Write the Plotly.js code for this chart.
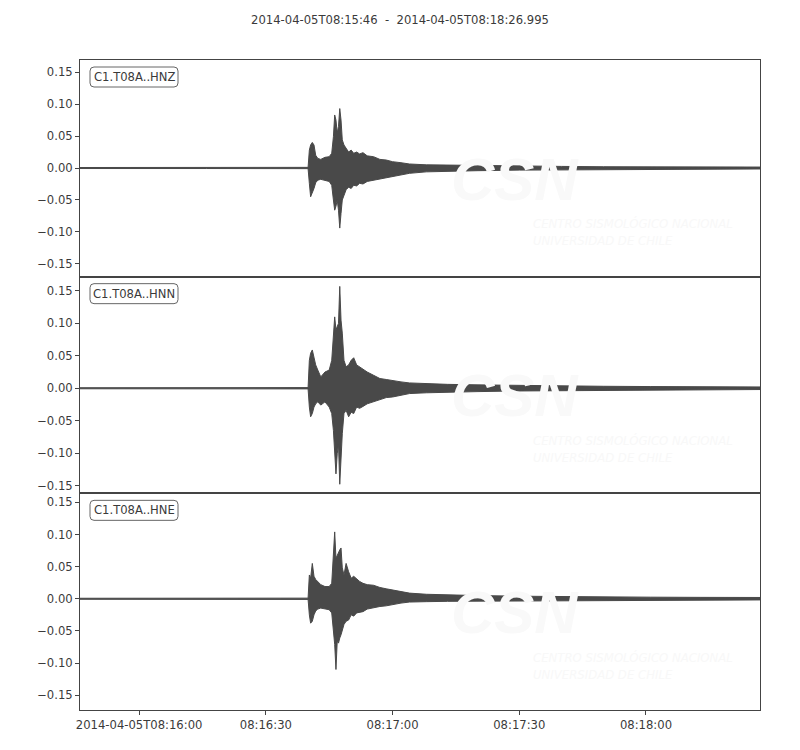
<!DOCTYPE html>
<html>
<head>
<meta charset="utf-8">
<script src="https://cdn.plot.ly/plotly-3.0.1.min.js"></script>
<style>html,body{margin:0;padding:0;background:#fff}#chart{width:800px;height:750px}</style>
</head>
<body>
<div id="chart"></div>
<script>
// ---- data ----
const startTime = "2014-04-05T08:15:46";
const endTime = "2014-04-05T08:18:26.995";
const channels = ["C1.T08A..HNZ", "C1.T08A..HNN", "C1.T08A..HNE"];

// seconds after 08:15:46
const timeOffsets = [0, 30, 54.0, 54.3, 54.6, 55.0, 55.4, 55.8, 56.3, 57.0, 58.0, 59.0, 59.6, 60.0, 60.3, 60.6, 60.9, 61.2, 61.5, 61.8, 62.1, 62.5, 63.0, 63.6, 64.2, 64.8, 65.5, 66.2, 67.0, 68.0, 69.5, 71.0, 72.5, 74.0, 76.0, 78.0, 82, 87, 94, 104, 114, 124, 135, 147, 161];

// envelope maxima / minima per channel
const hnzUpper = [0.0008, 0.0008, 0.001, 0.028, 0.036, 0.040, 0.036, 0.020, 0.015, 0.0135, 0.0167, 0.0177, 0.023, 0.049, 0.083, 0.075, 0.055, 0.065, 0.093, 0.075, 0.044, 0.036, 0.031, 0.025, 0.028, 0.023, 0.025, 0.022, 0.024, 0.019, 0.0177, 0.0135, 0.0125, 0.0099, 0.0083, 0.0063, 0.005, 0.0045, 0.004, 0.003, 0.0025, 0.002, 0.002, 0.0018, 0.0015];
const hnzLower = [-0.0008, -0.0008, -0.001, -0.024, -0.045, -0.040, -0.032, -0.023, -0.019, -0.0177, -0.019, -0.021, -0.027, -0.050, -0.066, -0.060, -0.050, -0.066, -0.094, -0.071, -0.050, -0.042, -0.034, -0.030, -0.032, -0.027, -0.028, -0.024, -0.025, -0.021, -0.019, -0.0167, -0.0146, -0.0125, -0.011, -0.0083, -0.006, -0.005, -0.0042, -0.0033, -0.0027, -0.0022, -0.002, -0.0018, -0.0015];

const hnnUpper = [0.0008, 0.0012, 0.001, 0.043, 0.054, 0.059, 0.046, 0.036, 0.028, 0.0175, 0.025, 0.028, 0.043, 0.074, 0.110, 0.090, 0.095, 0.100, 0.157, 0.105, 0.085, 0.043, 0.033, 0.036, 0.043, 0.047, 0.036, 0.033, 0.030, 0.025, 0.020, 0.015, 0.0135, 0.0124, 0.0098, 0.0082, 0.0068, 0.006, 0.0052, 0.0042, 0.0035, 0.003, 0.0026, 0.0023, 0.002];
const hnnLower = [-0.0008, -0.0012, -0.001, -0.029, -0.044, -0.039, -0.029, -0.024, -0.021, -0.026, -0.021, -0.029, -0.039, -0.065, -0.091, -0.132, -0.101, -0.086, -0.148, -0.101, -0.070, -0.039, -0.034, -0.044, -0.037, -0.039, -0.029, -0.031, -0.028, -0.024, -0.020, -0.0175, -0.0144, -0.0135, -0.011, -0.0082, -0.007, -0.006, -0.0052, -0.0042, -0.0035, -0.003, -0.0026, -0.0023, -0.002];

const hneUpper = [0.0008, 0.0012, 0.001, 0.037, 0.032, 0.055, 0.035, 0.030, 0.027, 0.022, 0.019, 0.019, 0.024, 0.063, 0.104, 0.063, 0.068, 0.071, 0.076, 0.079, 0.048, 0.037, 0.055, 0.042, 0.032, 0.035, 0.031, 0.027, 0.024, 0.022, 0.021, 0.0176, 0.0155, 0.014, 0.0114, 0.0088, 0.007, 0.006, 0.005, 0.004, 0.0033, 0.0028, 0.0025, 0.0022, 0.002];
const hneLower = [-0.0008, -0.0012, -0.001, -0.025, -0.038, -0.035, -0.025, -0.019, -0.016, -0.0145, -0.016, -0.017, -0.022, -0.051, -0.071, -0.110, -0.066, -0.069, -0.061, -0.056, -0.051, -0.040, -0.035, -0.033, -0.025, -0.027, -0.022, -0.021, -0.020, -0.016, -0.0135, -0.012, -0.011, -0.0093, -0.0067, -0.0051, -0.0045, -0.004, -0.0035, -0.003, -0.0027, -0.0024, -0.0022, -0.002, -0.0018];

const xTickValues = ["2014-04-05 08:16:00", "2014-04-05 08:16:30", "2014-04-05 08:17:00", "2014-04-05 08:17:30", "2014-04-05 08:18:00"];
const xTickLabels = ["2014-04-05T08:16:00", "08:16:30", "08:17:00", "08:17:30", "08:18:00"];
const yTickValues = [-0.15, -0.10, -0.05, 0.00, 0.05, 0.10, 0.15];

// ---- build ----
const startMs = Date.UTC(2014, 3, 5, 8, 15, 46);
function toDate(t) {
  return new Date(startMs + Math.round(t * 1000)).toISOString().replace('T', ' ').replace('Z', '');
}
const xStart = toDate(0);
const xEnd = toDate(160.995);

const upperSets = [hnzUpper, hnnUpper, hneUpper];
const lowerSets = [hnzLower, hnnLower, hneLower];
const yRanges = [[-0.170, 0.169], [-0.162, 0.172], [-0.173, 0.164]];
const domains = [[2/3, 1], [1/3, 2/3], [0, 1/3]];
const traceColor = '#494949';
const axisColor = '#444444';
const textColor = '#3a3a3a';
const fontFamily = 'DejaVu Sans, sans-serif';
const fontSize = 11.6;

const times = timeOffsets.map(toDate);
const timesRev = times.slice().reverse();

const data = [];
const layout = {
  width: 800, height: 750,
  margin: {l: 80, r: 40, t: 60, b: 40},
  paper_bgcolor: '#ffffff', plot_bgcolor: '#ffffff',
  showlegend: false,
  font: {family: fontFamily, size: fontSize, color: textColor},
  title: {
    text: startTime + '  -  ' + endTime,
    font: {family: fontFamily, size: fontSize, color: textColor},
    x: 0.5, xref: 'container', xanchor: 'center',
    y: 1 - 20 / 750, yref: 'container', yanchor: 'middle'
  },
  annotations: [],
  shapes: []
};

for (let i = 0; i < 3; i++) {
  const xa = i === 0 ? 'x' : 'x' + (i + 1);
  const ya = i === 0 ? 'y' : 'y' + (i + 1);
  const xKey = i === 0 ? 'xaxis' : 'xaxis' + (i + 1);
  const yKey = i === 0 ? 'yaxis' : 'yaxis' + (i + 1);
  const lower = lowerSets[i].slice().reverse();

  data.push({
    type: 'scatter', mode: 'lines',
    x: times.concat(timesRev),
    y: upperSets[i].concat(lower),
    xaxis: xa, yaxis: ya,
    fill: 'toself', fillcolor: traceColor,
    line: {color: traceColor, width: 1},
    hoverinfo: 'skip'
  });

  const isBottom = i === 2;
  layout[xKey] = {
    type: 'date', range: [xStart, xEnd], anchor: ya,
    showgrid: false, zeroline: false,
    showline: true, mirror: true, linecolor: axisColor, linewidth: 1,
    ticks: isBottom ? 'outside' : '', ticklen: 4, tickcolor: axisColor,
    showticklabels: isBottom,
    tickmode: 'array', tickvals: xTickValues, ticktext: xTickLabels,
    tickfont: {family: fontFamily, size: fontSize, color: textColor}
  };
  if (i > 0) layout[xKey].matches = 'x';
  layout[yKey] = {
    domain: domains[i], range: yRanges[i], anchor: xa,
    showgrid: false, zeroline: false,
    showline: true, mirror: true, linecolor: axisColor, linewidth: 1,
    ticks: 'outside', ticklen: 4, tickcolor: axisColor,
    tickmode: 'array', tickvals: yTickValues, tickformat: '.2f',
    tickfont: {family: fontFamily, size: fontSize, color: textColor}
  };

  const dref = (i === 0 ? 'y' : 'y' + (i + 1)) + ' domain';
  // faint watermark
  layout.annotations.push({
    text: '<b><i>CSN</i></b>', xref: 'paper', yref: dref,
    x: 0.64, y: 0.45, xanchor: 'center', yanchor: 'middle', showarrow: false,
    font: {family: 'Liberation Sans Narrow, Liberation Sans, sans-serif', size: 60, color: '#f9f9f9'}
  });
  layout.annotations.push({
    text: '<i>CENTRO SISMOLÓGICO NACIONAL</i><br><i>UNIVERSIDAD DE CHILE</i>', xref: 'paper', yref: dref,
    x: 0.663, y: 0.205, xanchor: 'left', yanchor: 'middle', align: 'left', showarrow: false,
    font: {family: 'Liberation Sans Narrow, DejaVu Sans Condensed, sans-serif', size: 13, color: '#f8f8f8'}
  });
  // channel label with rounded box
  layout.shapes.push({
    type: 'path', xref: 'paper', yref: 'paper',
    xsizemode: 'pixel', ysizemode: 'pixel', xanchor: 0, yanchor: domains[i][1],
    path: 'M 14,-7 L 94,-7 Q 98,-7 98,-11 L 98,-23 Q 98,-27 94,-27 L 14,-27 Q 10,-27 10,-23 L 10,-11 Q 10,-7 14,-7 Z',
    line: {color: '#666666', width: 1}, fillcolor: '#ffffff', layer: 'above'
  });
  layout.annotations.push({
    text: channels[i], xref: 'paper', yref: dref,
    x: 54 / 680, y: 1 - 17 / 217, xanchor: 'center', yanchor: 'middle', showarrow: false,
    font: {family: fontFamily, size: fontSize, color: textColor}
  });
}

Plotly.newPlot('chart', data, layout, {displayModeBar: false, staticPlot: true});
</script>
</body>
</html>
